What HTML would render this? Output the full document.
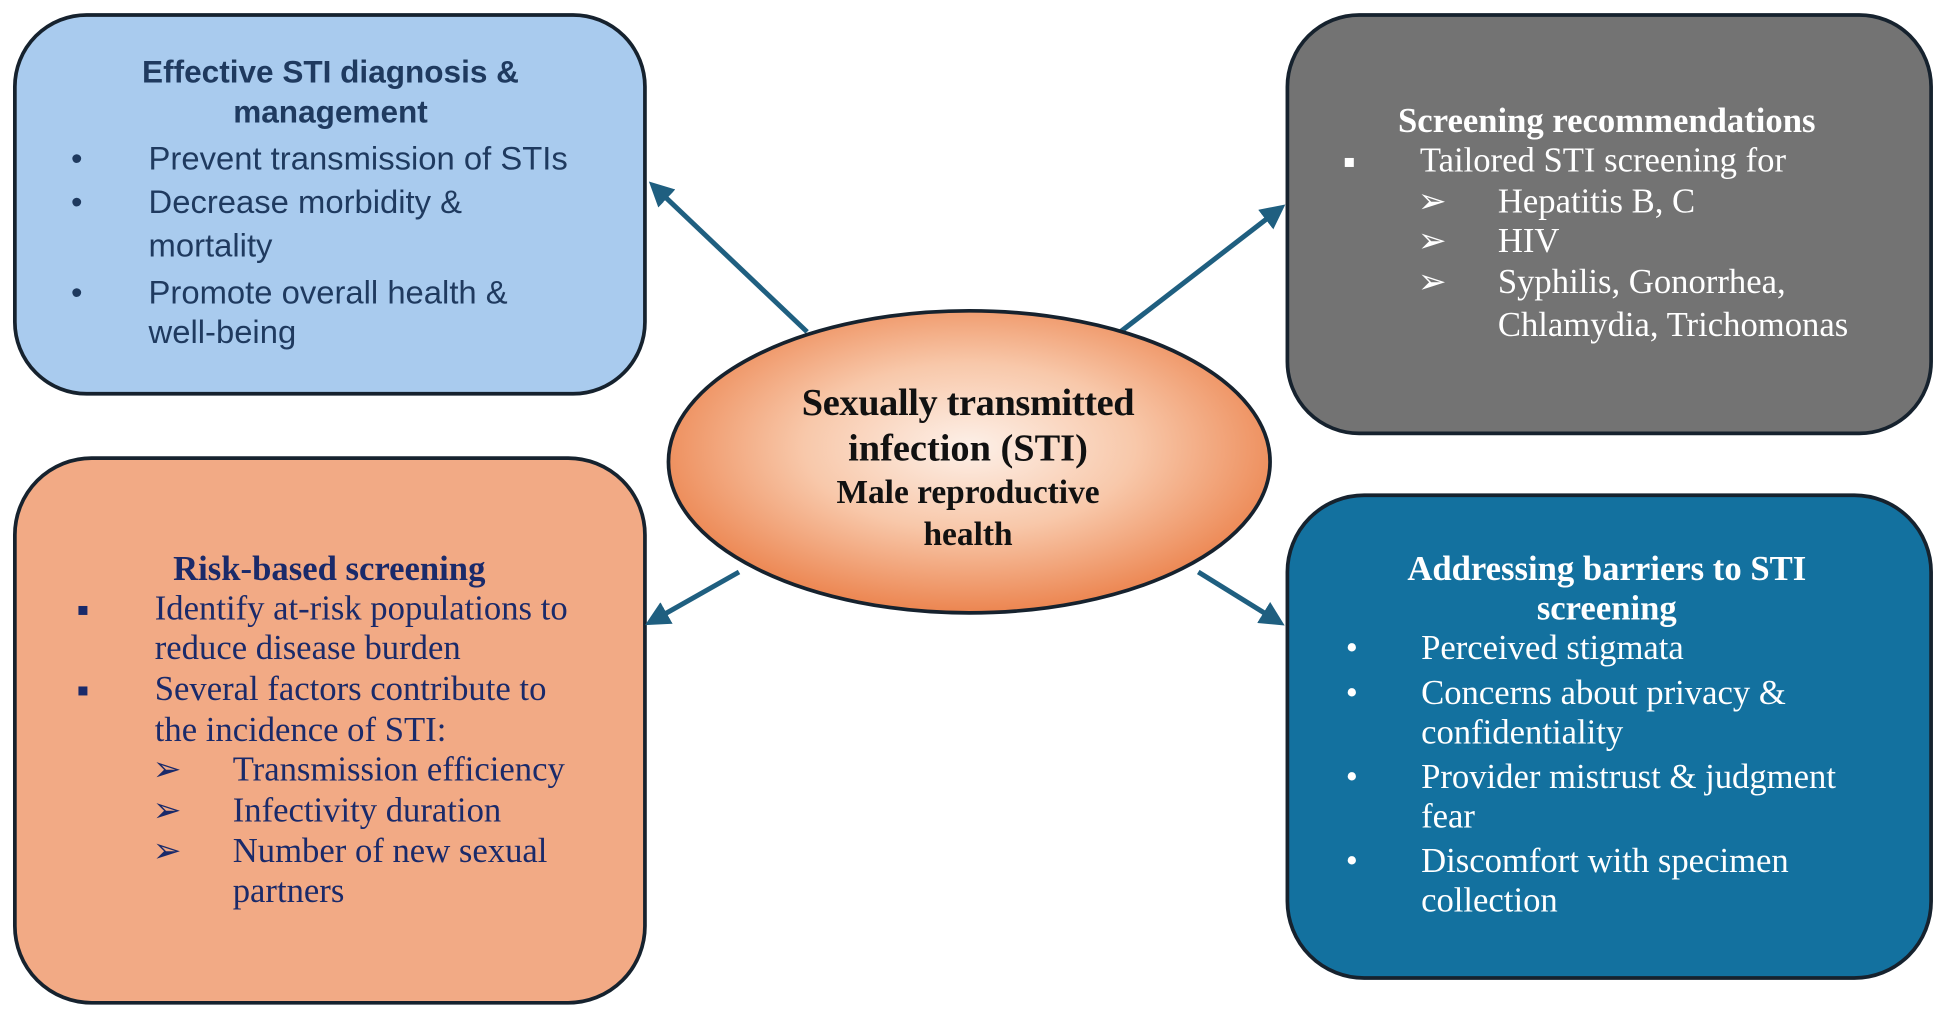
<!DOCTYPE html>
<html><head><meta charset="utf-8"><style>
html,body{margin:0;padding:0;background:#fff;}
svg{display:block;}
.s{font-family:"Liberation Sans Narrow","Liberation Sans",sans-serif;}
.r{font-family:"Liberation Serif",serif;}
</style></head><body>
<svg width="1941" height="1019" viewBox="0 0 1568 823" xmlns="http://www.w3.org/2000/svg">
<defs>
<radialGradient id="g" cx="50%" cy="45%" r="55%">
<stop offset="0" stop-color="#fdf0e8"/><stop offset="0.5" stop-color="#f8c8aa"/><stop offset="1" stop-color="#ec8550"/>
</radialGradient>
<marker id="m" markerWidth="5" markerHeight="5" refX="3" refY="2.5" orient="auto" markerUnits="strokeWidth">
<path d="M0,0 L5,2.5 L0,5 z" fill="#1f5f80"/></marker>
</defs>
<rect x="12" y="12" width="509" height="306" rx="58" fill="#a9cbee" stroke="#16222e" stroke-width="3"/>
<rect x="1040" y="12" width="520" height="338" rx="58" fill="#737373" stroke="#16222e" stroke-width="3"/>
<rect x="12" y="370" width="509" height="440" rx="62" fill="#f2aa85" stroke="#16222e" stroke-width="3"/>
<rect x="1040" y="400" width="520" height="390" rx="62" fill="#13719f" stroke="#16222e" stroke-width="3"/>
<g stroke="#1f5f80" stroke-width="4" marker-end="url(#m)">
<line x1="652" y1="268" x2="530" y2="152"/>
<line x1="905" y1="268" x2="1032" y2="170"/>
<line x1="597" y1="462" x2="528" y2="501"/>
<line x1="968" y1="462" x2="1031" y2="501"/>
</g>
<ellipse cx="783" cy="373" rx="243" ry="122" fill="url(#g)" stroke="#16222e" stroke-width="3"/>
<g class="r" font-weight="bold" fill="#111" text-anchor="middle" dominant-baseline="middle">
<text x="782" y="328" font-size="31" letter-spacing="-0.3">Sexually transmitted</text>
<text x="782" y="365" font-size="31">infection (STI)</text>
<text x="782" y="400" font-size="27">Male reproductive</text>
<text x="782" y="434" font-size="27">health</text>
</g>
<g class="s" fill="#1f3a5f" dominant-baseline="middle" font-size="26.5">
<text x="267" y="60" text-anchor="middle" font-weight="bold" font-size="25.5">Effective STI diagnosis &amp;</text>
<text x="267" y="92" text-anchor="middle" font-weight="bold" font-size="25.5">management</text>
<text x="62" y="130" text-anchor="middle">•</text><text x="120" y="130">Prevent transmission of STIs</text>
<text x="62" y="165" text-anchor="middle">•</text><text x="120" y="165">Decrease morbidity &amp;</text>
<text x="120" y="200">mortality</text>
<text x="62" y="238" text-anchor="middle">•</text><text x="120" y="238">Promote overall health &amp;</text>
<text x="120" y="270">well-being</text>
</g>
<g class="r" fill="#fff" dominant-baseline="middle" font-size="28">
<text x="1298" y="100" text-anchor="middle" font-weight="bold">Screening recommendations</text>
<text x="1090" y="132" text-anchor="middle" font-size="15">■</text><text x="1147" y="132">Tailored STI screening for</text>
<text x="1157" y="165" text-anchor="middle">➢</text><text x="1210" y="165">Hepatitis B, C</text>
<text x="1157" y="197" text-anchor="middle">➢</text><text x="1210" y="197">HIV</text>
<text x="1157" y="230" text-anchor="middle">➢</text><text x="1210" y="230">Syphilis, Gonorrhea,</text>
<text x="1210" y="265">Chlamydia, Trichomonas</text>
</g>
<g class="r" fill="#1a2a6a" dominant-baseline="middle" font-size="28">
<text x="266" y="462" text-anchor="middle" font-weight="bold">Risk-based screening</text>
<text x="67" y="494" text-anchor="middle" font-size="15">■</text><text x="125" y="494">Identify at-risk populations to</text>
<text x="125" y="526">reduce disease burden</text>
<text x="67" y="559" text-anchor="middle" font-size="15">■</text><text x="125" y="559">Several factors contribute to</text>
<text x="125" y="592">the incidence of STI:</text>
<text x="135" y="624" text-anchor="middle">➢</text><text x="188" y="624">Transmission efficiency</text>
<text x="135" y="657" text-anchor="middle">➢</text><text x="188" y="657">Infectivity duration</text>
<text x="135" y="690" text-anchor="middle">➢</text><text x="188" y="690">Number of new sexual</text>
<text x="188" y="722">partners</text>
</g>
<g class="r" fill="#fff" dominant-baseline="middle" font-size="28">
<text x="1298" y="462" text-anchor="middle" font-weight="bold">Addressing barriers to STI</text>
<text x="1298" y="494" text-anchor="middle" font-weight="bold">screening</text>
<text x="1092" y="526" text-anchor="middle">•</text><text x="1148" y="526">Perceived stigmata</text>
<text x="1092" y="562" text-anchor="middle">•</text><text x="1148" y="562">Concerns about privacy &amp;</text>
<text x="1148" y="594">confidentiality</text>
<text x="1092" y="630" text-anchor="middle">•</text><text x="1148" y="630">Provider mistrust &amp; judgment</text>
<text x="1148" y="662">fear</text>
<text x="1092" y="698" text-anchor="middle">•</text><text x="1148" y="698">Discomfort with specimen</text>
<text x="1148" y="730">collection</text>
</g>
</svg>
</body></html>
